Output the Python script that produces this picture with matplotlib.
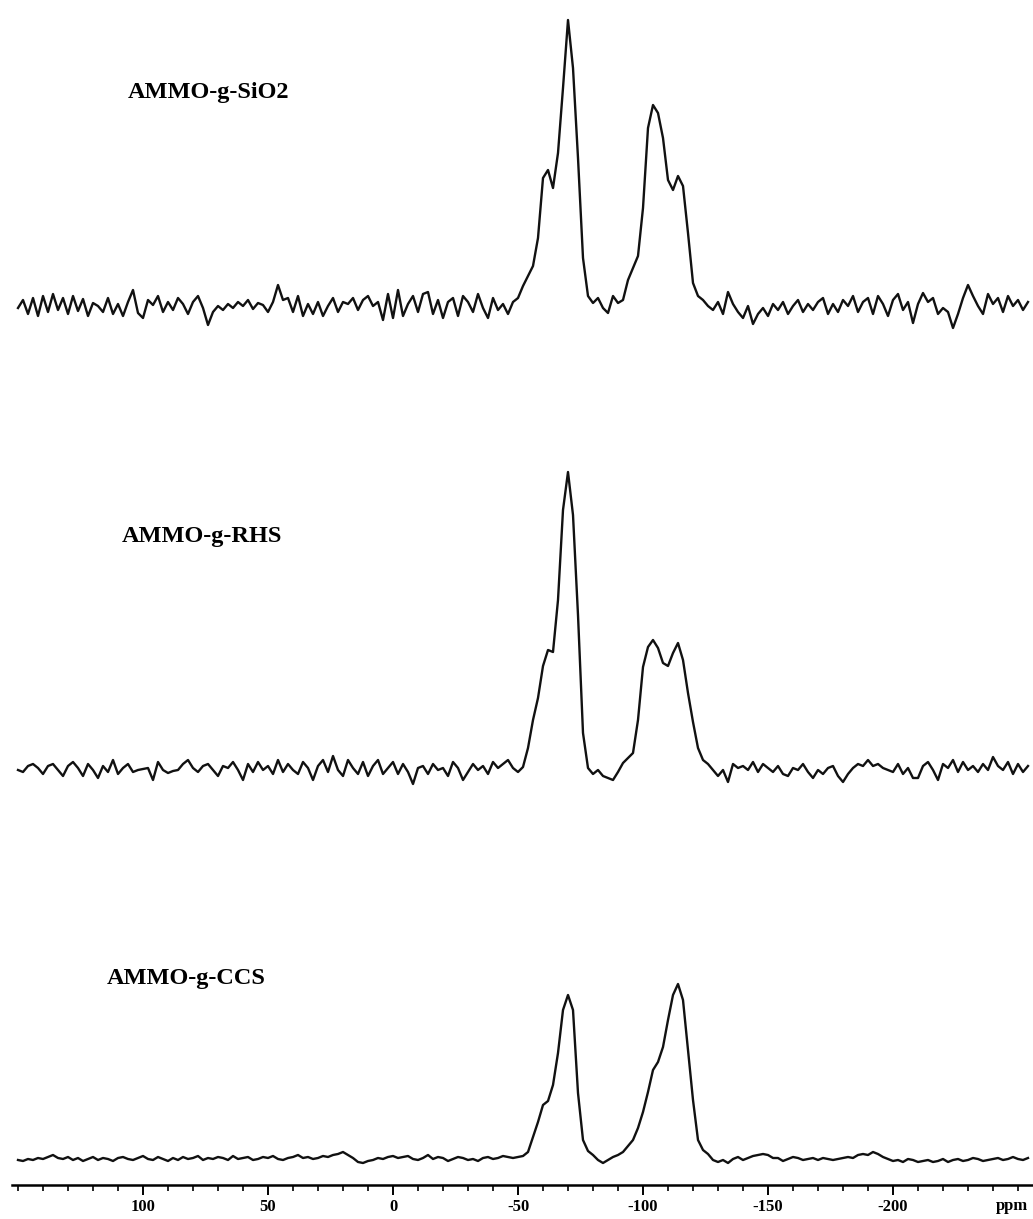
import numpy as np
import matplotlib
matplotlib.use("Agg")
import matplotlib.pyplot as plt
from matplotlib.ticker import FixedLocator, FixedFormatter, MultipleLocator

# chemical shift grid (ppm), one point every 2 ppm
ppm = np.arange(150, -256, -2)

# intensities above baseline (arbitrary units)
sio2 = [0, 8, -6, 10, -8, 12, -4, 14, -2, 10,
        -6, 12, -3, 9, -8, 5, 2, -4, 10, -6,
        4, -8, 6, 18, -5, -10, 8, 3, 12, -4,
        6, -2, 10, 4, -6, 6, 12, 0, -17, -4,
        2, -2, 4, 0, 6, 2, 8, -1, 5, 3,
        -4, 6, 23, 8, 10, -4, 12, -8, 4, -6,
        6, -8, 2, 10, -4, 6, 4, 10, -2, 8,
        12, 2, 6, -12, 14, -10, 18, -8, 4, 12,
        -4, 14, 16, -6, 8, -10, 6, 10, -8, 12,
        6, -4, 14, 0, -10, 10, -2, 4, -6, 6,
        10, 22, 32, 42, 70, 130, 138, 120, 155, 220,
        288, 240, 150, 50, 12, 5, 10, 0, -5, 12,
        5, 8, 28, 40, 52, 100, 180, 203, 195, 170,
        128, 118, 132, 122, 75, 25, 12, 8, 2, -2,
        6, -6, 16, 4, -4, -10, 2, -16, -6, 0,
        -8, 4, -2, 6, -6, 2, 8, -4, 4, -2,
        6, 10, -6, 4, -4, 8, 2, 12, -4, 6,
        10, -6, 12, 4, -8, 8, 14, -2, 6, -15,
        4, 15, 6, 10, -6, 0, -4, -20, -6, 10,
        23, 12, 2, -6, 14, 4, 10, -4, 12, 2,
        8, -2, 6]

rhs = [0, -2, 4, 6, 2, -4, 4, 6, 0, -6,
       4, 8, 2, -6, 6, 0, -8, 4, -2, 10,
       -4, 2, 6, -2, 0, 1, 2, -10, 8, 0,
       -3, -1, 0, 6, 10, 2, -2, 4, 6, 0,
       -6, 4, 2, 8, 0, -10, 6, -2, 8, 0,
       4, -4, 10, -2, 6, 0, -4, 8, 2, -10,
       4, 10, -2, 14, 0, -6, 10, 2, -4, 8,
       -6, 4, 10, -4, 2, 8, -4, 6, -2, -14,
       2, 4, -4, 6, 0, 2, -6, 8, 2, -10,
       -2, 6, 0, 4, -4, 8, 2, 6, 10, 2,
       -2, 3, 22, 50, 72, 104, 120, 118, 170, 260,
       298, 255, 155, 37, 2, -4, 0, -6, -8, -10,
       -2, 7, 12, 17, 50, 103, 123, 130, 122, 107,
       104, 117, 127, 110, 77, 48, 22, 10, 6, 0,
       -6, 0, -12, 6, 2, 4, 0, 8, -2, 6,
       2, -2, 4, -4, -6, 2, 0, 6, -2, -8,
       0, -4, 2, 4, -6, -12, -4, 2, 6, 4,
       10, 4, 6, 2, 0, -2, 6, -4, 2, -8,
       -8, 4, 8, 0, -10, 6, 2, 10, -2, 8,
       0, 4, -2, 6, 0, 13, 4, 0, 8, -4,
       6, -2, 4]

ccs = [0, -1, 1, 0, 2, 1, 3, 5, 2, 1,
       3, 0, 2, -1, 1, 3, 0, 2, 1, -1,
       2, 3, 1, 0, 2, 4, 1, 0, 3, 1,
       -1, 2, 0, 3, 1, 2, 4, 0, 2, 1,
       3, 2, 0, 4, 1, 2, 3, 0, 1, 3,
       2, 4, 1, 0, 2, 3, 5, 2, 3, 1,
       2, 4, 3, 5, 6, 8, 5, 2, -2, -3,
       -1, 0, 2, 1, 3, 4, 2, 3, 4, 1,
       0, 2, 5, 1, 3, 2, -1, 1, 3, 2,
       0, 1, -1, 2, 3, 1, 2, 4, 3, 2,
       3, 4, 8, 23, 38, 55, 59, 75, 107, 150,
       165, 150, 67, 20, 9, 5, 0, -3, 0, 3,
       5, 8, 14, 20, 32, 48, 68, 90, 98, 113,
       140, 165, 176, 160, 110, 60, 20, 10, 6, 0,
       -2, 0, -3, 1, 3, 0, 2, 4, 5, 6,
       5, 2, 2, -1, 1, 3, 2, 0, 1, 2,
       0, 2, 1, 0, 1, 2, 3, 2, 5, 6,
       5, 8, 6, 3, 1, -1, 0, -2, 1, 0,
       -2, -1, 0, -2, -1, 1, -2, 0, 1, -1,
       0, 2, 1, -1, 0, 1, 2, 0, 1, 3,
       1, 0, 2]

names = ["AMMO-g-SiO2", "AMMO-g-RHS", "AMMO-g-CCS"]
tick_vals = [100, 50, 0, -50, -100, -150, -200]
tick_labels = ["100", "50", "0", "-50", "-100", "-150", "-200"]

W, H = 1033, 1219
fig = plt.figure(figsize=(W / 100, H / 100), dpi=100)
ax = fig.add_axes([12 / W, 34 / H, 1021 / W, 1185 / H])

offsets = [877, 415, 25]   # stacking of the three traces
for y, off in zip([sio2, rhs, ccs], offsets):
    ax.plot(ppm, np.array(y) + off, color="#111111", lw=1.7)

ax.set_xlim(152.4, -256)
ax.set_ylim(0, 1185)
for s in ["top", "right", "left"]:
    ax.spines[s].set_visible(False)
ax.spines["bottom"].set_linewidth(1.8)
ax.set_yticks([])
ax.xaxis.set_major_locator(FixedLocator(tick_vals))
ax.xaxis.set_major_formatter(FixedFormatter(tick_labels))
ax.xaxis.set_minor_locator(MultipleLocator(10))
ax.tick_params(axis="x", which="major", length=7, width=1.4, pad=3,
               labelsize=12)
ax.tick_params(axis="x", which="minor", length=4, width=1.2)
for lab in ax.get_xticklabels():
    lab.set_family("Liberation Serif")
    lab.set_fontweight("bold")

fig.text(1012 / W, 1 - 1210 / H, "ppm", family="Liberation Serif",
         fontsize=12, fontweight="bold", ha="center", va="baseline")

# sample labels
label_pos = [(128, 98), (122, 542), (107, 984)]
for name, (lx, ly) in zip(names, label_pos):
    fig.text(lx / W, 1 - ly / H, name, family="Liberation Serif",
             fontweight="bold", fontsize=17.5, ha="left", va="baseline")

fig.savefig("out.png", dpi=100)
